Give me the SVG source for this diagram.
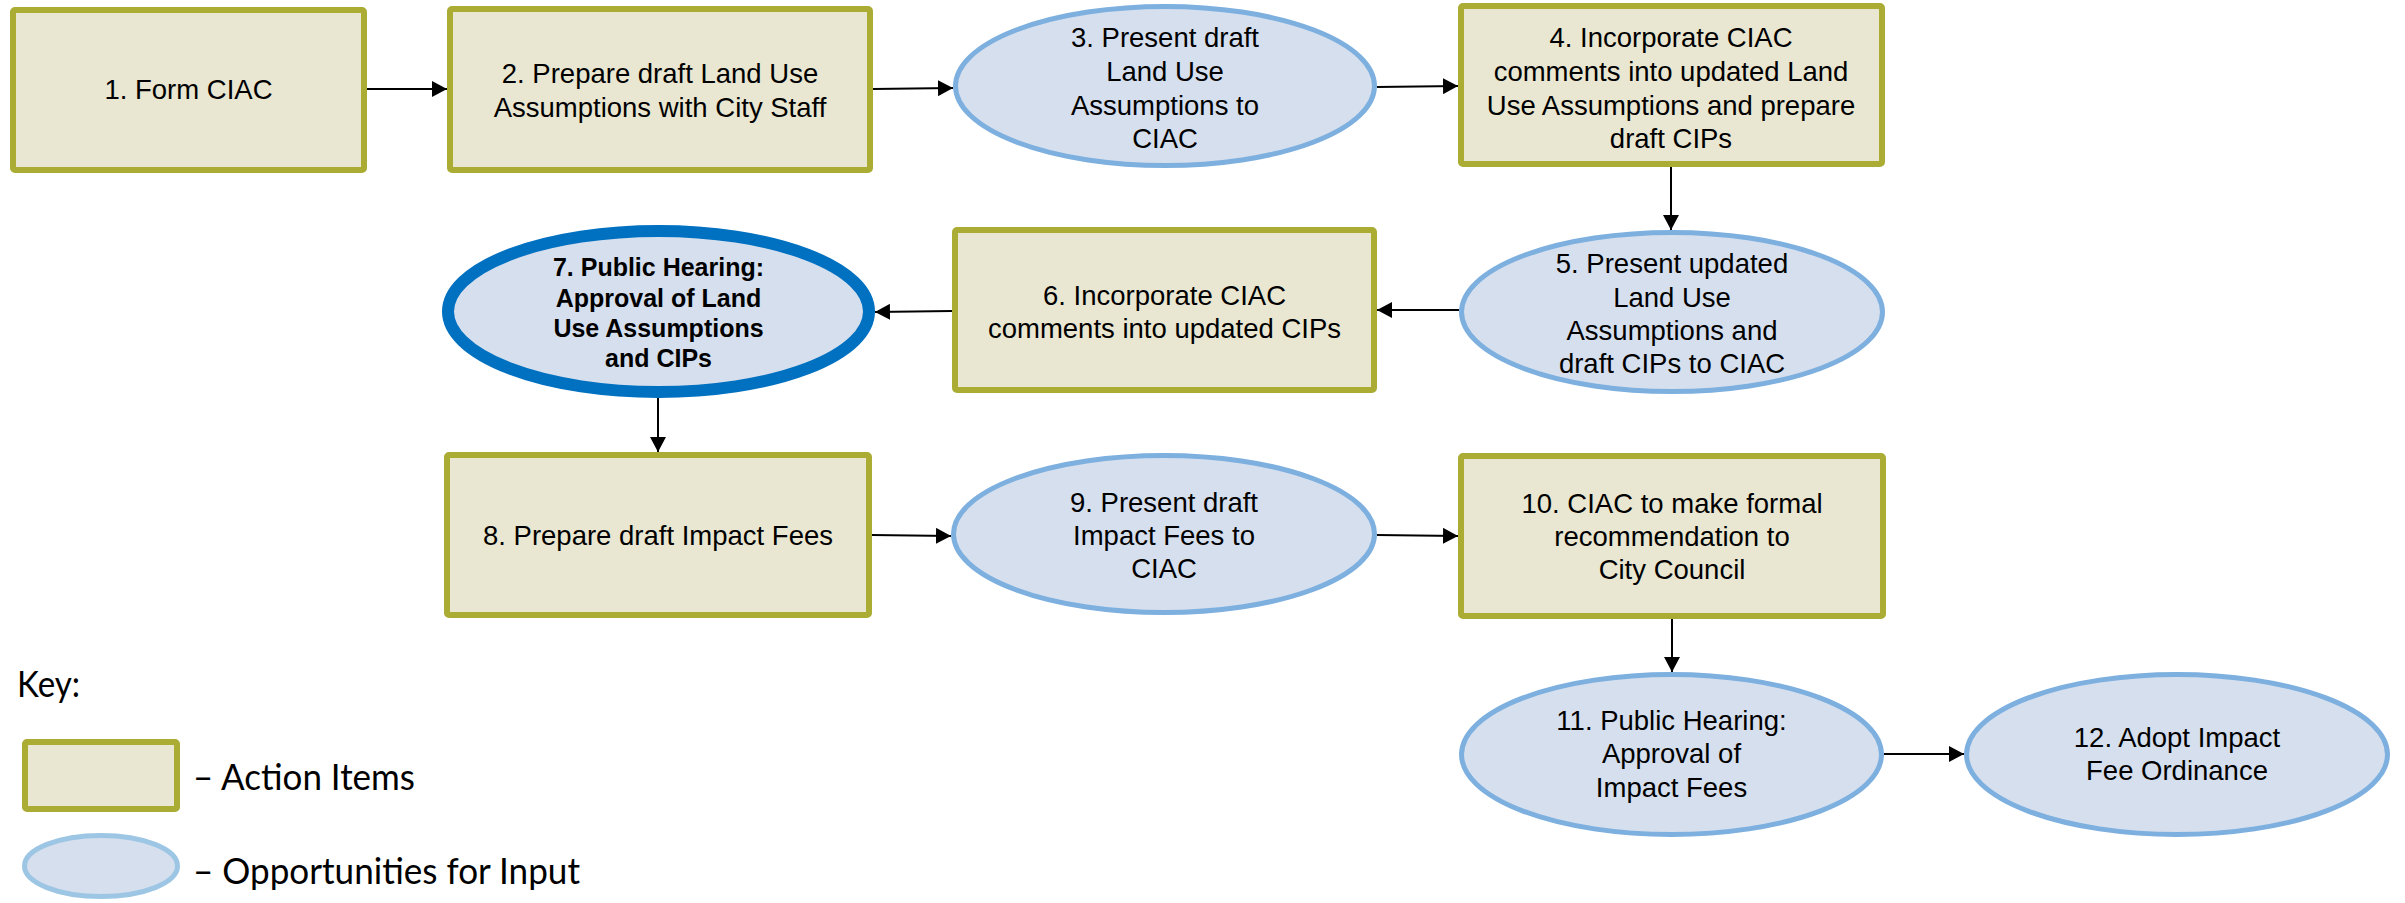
<svg xmlns="http://www.w3.org/2000/svg" width="2405" height="903" viewBox="0 0 2405 903">
<style>
.box{fill:#E9E7D1;stroke:#AAAC33;stroke-width:6}
.ell{fill:#D5DFEE;stroke:#7DAFDF;stroke-width:5}
.ell7{fill:#D5DFEE;stroke:#0070C0;stroke-width:12}
.t{font-family:"Liberation Sans",Arial,sans-serif;font-size:27.5px;fill:#000;text-anchor:middle}
.tb{font-family:"Liberation Sans",Arial,sans-serif;font-size:25px;font-weight:bold;fill:#000;text-anchor:middle}
.k{font-family:Lato,"Open Sans",sans-serif;font-size:37px;fill:#000}
.c{stroke:#000;stroke-width:2;fill:none;marker-end:url(#ah)}
</style>
<defs>
<marker id="ah" markerUnits="userSpaceOnUse" markerWidth="16" markerHeight="16" refX="15" refY="8" orient="auto">
<path d="M0,0 L15,8 L0,16 z" fill="#000"/>
</marker>
</defs>
<rect width="2405" height="903" fill="#fff"/>
<g id="connectors">
<line class="c" x1="367" y1="89" x2="447" y2="89"/>
<line class="c" x1="873" y1="89" x2="953" y2="88"/>
<line class="c" x1="1377" y1="87" x2="1458" y2="86"/>
<line class="c" x1="1671" y1="167" x2="1671" y2="230"/>
<line class="c" x1="1459" y1="310" x2="1377" y2="310"/>
<line class="c" x1="952" y1="311" x2="875" y2="312"/>
<line class="c" x1="658" y1="398" x2="658" y2="452"/>
<line class="c" x1="872" y1="535" x2="951" y2="536"/>
<line class="c" x1="1377" y1="535" x2="1458" y2="536"/>
<line class="c" x1="1672" y1="619" x2="1672" y2="672"/>
<line class="c" x1="1884" y1="754" x2="1964" y2="754"/>
</g>
<g id="n1">
<rect class="box" x="13" y="10" width="351" height="160" rx="2"/>
<text class="t" x="188.5" y="99">1. Form CIAC</text>
</g>
<g id="n2">
<rect class="box" x="450" y="9" width="420" height="161" rx="2"/>
<text class="t" x="660" y="83">2. Prepare draft Land Use</text>
<text class="t" x="660" y="117">Assumptions with City Staff</text>
</g>
<g id="n3">
<ellipse class="ell" cx="1165" cy="86" rx="209.5" ry="79.5"/>
<text class="t" x="1165" y="47">3. Present draft</text>
<text class="t" x="1165" y="81">Land Use</text>
<text class="t" x="1165" y="115">Assumptions to</text>
<text class="t" x="1165" y="148">CIAC</text>
</g>
<g id="n4">
<rect class="box" x="1461" y="6" width="421" height="158" rx="2"/>
<text class="t" x="1671" y="47">4. Incorporate CIAC</text>
<text class="t" x="1671" y="81">comments into updated Land</text>
<text class="t" x="1671" y="115">Use Assumptions and prepare</text>
<text class="t" x="1671" y="148">draft CIPs</text>
</g>
<g id="n5">
<ellipse class="ell" cx="1672" cy="312" rx="210.5" ry="79.5"/>
<text class="t" x="1672" y="273">5. Present updated</text>
<text class="t" x="1672" y="307">Land Use</text>
<text class="t" x="1672" y="340">Assumptions and</text>
<text class="t" x="1672" y="373">draft CIPs to CIAC</text>
</g>
<g id="n6">
<rect class="box" x="955" y="230" width="419" height="160" rx="2"/>
<text class="t" x="1164.5" y="305">6. Incorporate CIAC</text>
<text class="t" x="1164.5" y="338">comments into updated CIPs</text>
</g>
<g id="n7">
<ellipse class="ell7" cx="658.5" cy="311.5" rx="210.5" ry="80.5"/>
<text class="tb" x="658.5" y="276">7. Public Hearing:</text>
<text class="tb" x="658.5" y="307">Approval of Land</text>
<text class="tb" x="658.5" y="337">Use Assumptions</text>
<text class="tb" x="658.5" y="367">and CIPs</text>
</g>
<g id="n8">
<rect class="box" x="447" y="455" width="422" height="160" rx="2"/>
<text class="t" x="658" y="545">8. Prepare draft Impact Fees</text>
</g>
<g id="n9">
<ellipse class="ell" cx="1164" cy="534" rx="210.5" ry="78.5"/>
<text class="t" x="1164" y="512">9. Present draft</text>
<text class="t" x="1164" y="545">Impact Fees to</text>
<text class="t" x="1164" y="578">CIAC</text>
</g>
<g id="n10">
<rect class="box" x="1461" y="456" width="422" height="160" rx="2"/>
<text class="t" x="1672" y="513">10. CIAC to make formal</text>
<text class="t" x="1672" y="546">recommendation to</text>
<text class="t" x="1672" y="579">City Council</text>
</g>
<g id="n11">
<ellipse class="ell" cx="1671.5" cy="754.5" rx="210" ry="80"/>
<text class="t" x="1671.5" y="730">11. Public Hearing:</text>
<text class="t" x="1671.5" y="763">Approval of</text>
<text class="t" x="1671.5" y="797">Impact Fees</text>
</g>
<g id="n12">
<ellipse class="ell" cx="2177" cy="754.5" rx="210.5" ry="80"/>
<text class="t" x="2177" y="747">12. Adopt Impact</text>
<text class="t" x="2177" y="780">Fee Ordinance</text>
</g>
<g id="key">
<text class="k" x="17" y="697" textLength="63" lengthAdjust="spacingAndGlyphs">Key:</text>
<rect class="box" x="25" y="742" width="152" height="67" rx="2"/>
<text class="k" x="193" y="790" textLength="222" lengthAdjust="spacingAndGlyphs">– Action Items</text>
<ellipse cx="101" cy="866" rx="76.5" ry="30.5" fill="#D5DFEE" stroke="#9DC6E4" stroke-width="5"/>
<text class="k" x="193" y="884" textLength="387" lengthAdjust="spacingAndGlyphs">– Opportunities for Input</text>
</g>
</svg>
